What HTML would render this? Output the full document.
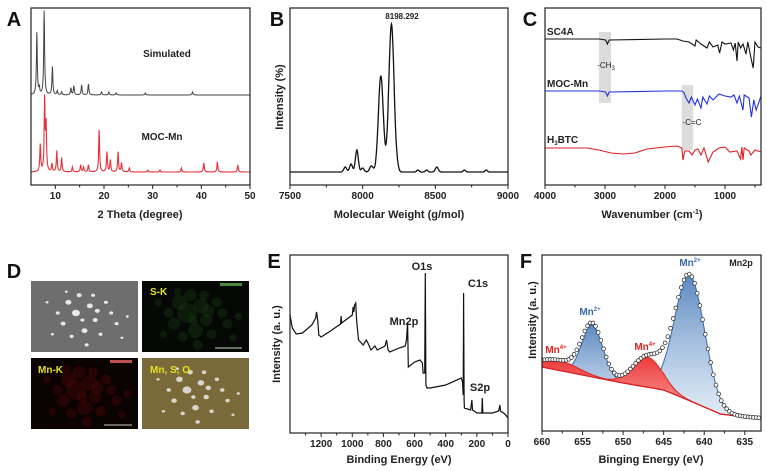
<!DOCTYPE html>
<html><head><meta charset="utf-8">
<style>
html,body{margin:0;padding:0;background:#fff;}
svg{display:block;font-family:"Liberation Sans",Arial,sans-serif;}
.t{font-size:10px;font-weight:bold;fill:#222;}
.lab{font-size:11px;font-weight:bold;fill:#222;}
.pl{font-size:20px;font-weight:bold;fill:#111;}
</style></head>
<body>
<svg id="fig" width="767" height="471" viewBox="0 0 767 471">
<g id="gA"></g>
<g id="gB"></g>
<g id="gC"></g>
<g id="gD"></g>
<g id="gE"></g>
<g id="gF"></g>
</svg>
<script>
// ---------- data ----------
const simPeaks=[[6.2,62],[6.7,6],[7.7,84],[9.4,28],[10.4,4],[11.3,3],[13.2,7],[13.8,9],[15.4,10],[16.8,11],[19.5,3],[21,3],[22.5,2],[28.5,2],[38.2,3]];
const mocPeaks=[[6.9,27],[7.8,72],[8.1,45],[9.3,8],[10.3,21],[11.3,14],[13.5,5],[15.2,7],[15.8,5],[16.8,7],[19,42],[20.6,20],[21.3,12],[22.9,20],[23.6,9],[25.2,4],[29,2],[31.5,2],[35.9,4],[40.5,9],[43.3,10],[47.5,7]];
const msPeaks=[[7880,5],[7920,8],[7960,22],[8000,4],[8060,6],[8125,96],[8198,148],[8240,3],[8510,5],[8380,2],[8440,2],[8700,2],[8850,2]];
const msWidths=[10,10,10,10,12,17,18,8,10,8,8,8,8];
const msTicks=[7500,8000,8500,9000];
const irSC4A=[[4000,39],[3100,39],[2990,40],[2960,44],[2930,40],[2000,39],[1800,39],[1700,41],[1600,42],[1500,46],[1480,40],[1400,44],[1300,48],[1260,42],[1200,47],[1120,45],[1090,53],[1050,42],[1000,44],[900,43],[860,50],[830,43],[800,61],[780,42],[740,48],[700,44],[650,54],[620,42],[560,60],[530,68],[500,42],[450,47],[400,48]];
const irMOC=[[4000,91],[3100,91],[2990,92],[2960,96],[2930,92],[2000,91],[1720,91],[1680,93],[1650,98],[1600,103],[1560,97],[1500,105],[1460,99],[1400,108],[1370,97],[1300,104],[1260,96],[1200,100],[1100,94],[1000,96],[900,97],[850,95],[800,103],[760,96],[700,110],[680,95],[600,98],[560,117],[520,100],[480,110],[400,96]];
const irBTC=[[4000,148],[3300,148],[3100,150],[2900,153],[2700,154],[2500,153],[2300,149],[2000,147],[1800,146],[1720,148],[1700,160],[1670,151],[1600,151],[1550,155],[1500,150],[1450,149],[1400,155],[1350,148],[1280,162],[1200,152],[1100,148],[1000,147],[920,152],[800,151],[740,159],[720,147],[700,160],[680,148],[600,151],[570,155],[500,150],[400,152]];
const xpsSurvey=[[1400,315],[1385,328],[1360,334],[1320,333],[1260,325],[1235,318],[1230,312],[1222,320],[1215,335],[1200,337],[1150,332],[1075,324],[1072,316],[1068,323],[1000,315],[995,307],[990,312],[985,305],[978,303],[972,320],[960,340],[930,345],[910,340],[900,343],[880,350],[855,346],[840,350],[790,346],[780,340],[770,350],[760,352],[700,348],[660,346],[652,340],[645,322],[640,367],[600,362],[565,360],[550,363],[545,373],[535,373],[531,273],[527,385],[520,388],[500,388],[400,385],[300,378],[292,382],[288,395],[285,293],[282,400],[280,408],[240,410],[232,400],[228,410],[200,413],[168,413],[165,398],[162,413],[100,413],[60,411],[52,405],[48,411],[20,414],[0,418]];
const xpsTicks=[1200,1000,800,600,400,200,0];
const fBg=[[660,367],[655,375],[650,383],[645,390],[642,400],[640,407],[638,414],[636,416],[633,418]];
const fCenters=[641.8,653.8,647.0,658.0];
const fAmps=[126,52,30,10];
const fSigmas=[1.85,1.3,1.8,2.4];
const fTypes=["mn2","mn2","mn4","mn4"];
const fTicks=[660,655,650,645,640,635];

// ---------- helpers ----------
const NS="http://www.w3.org/2000/svg";
function mk(parent,tag,attrs,name){const e=document.createElementNS(NS,tag);for(const k in attrs)e.setAttribute(k,attrs[k]);


parent.appendChild(e);return e;}
function txt(parent,x,y,s,cls,name,extra){const e=mk(parent,'text',Object.assign({x:x,y:y,class:cls,'text-anchor':'middle'},extra||{}),name);e.textContent=s;return e;}
function lin(d0,d1,r0,r1){return v=>r0+(v-d0)*(r1-r0)/(d1-d0);}
function interp(arr,v){if(arr[0][0]>arr[arr.length-1][0]){arr=arr.slice().reverse();}
if(v<=arr[0][0])return arr[0][1];for(let i=1;i<arr.length;i++){if(v<=arr[i][0]){const a=arr[i-1],b=arr[i];return a[1]+(b[1]-a[1])*(v-a[0])/(b[0]-a[0]);}}return arr[arr.length-1][1];}
function frame(g,x0,y0,x1,y1,name){mk(g,'rect',{x:x0,y:y0,width:x1-x0,height:y1-y0,fill:'none',stroke:'#222','stroke-width':1.2},name);}
function ticks(g,xs,vals,yb,labels,name,minor){vals.forEach((v,i)=>{const x=xs(v);mk(g,'line',{x1:x,x2:x,y1:yb,y2:yb+4,stroke:'#222','stroke-width':1},name+'-tick');
if(labels)txt(g,x,yb+14,String(labels[i]),'t',name+'-label');});
if(minor)minor.forEach(v=>{const x=xs(v);mk(g,'line',{x1:x,x2:x,y1:yb,y2:yb+2.5,stroke:'#222','stroke-width':1},name+'-minor-tick');});}
function peakPath(xs,base,peaks,lo,hi,step,w){let d='';for(let v=lo;v<=hi+1e-9;v+=step){let y=base;peaks.forEach(p=>{const dx=(v-p[0])/w;y-=p[1]/(1+dx*dx*4);});d+=(d?'L':'M')+xs(v).toFixed(1)+','+y.toFixed(1);}return d;}

// ---------- Panel A ----------
(function(){const g=document.getElementById('gA');const xs=lin(5,50,31,250);
txt(g,14,26,'A','pl','panel-label-a');
mk(g,'path',{d:peakPath(xs,95,simPeaks,5,50,0.05,0.22),fill:'none',stroke:'#444','stroke-width':1},'simulated-pattern');
mk(g,'path',{d:peakPath(xs,172,mocPeaks,5,50,0.05,0.22),fill:'none',stroke:'#e8303a','stroke-width':1.1},'moc-mn-pattern');
txt(g,167,57,'Simulated','lab','simulated-label',{style:'font-size:10px'});
txt(g,162,140,'MOC-Mn','lab','moc-mn-label',{style:'font-size:10px'});
frame(g,31,8,250,185,'panel-a-frame');
ticks(g,xs,[10,20,30,40,50],185,[10,20,30,40,50],'a-x',[15,25,35,45]);
txt(g,140,218,'2 Theta (degree)','lab','a-x-axis-title');})();

// ---------- Panel B ----------
(function(){const g=document.getElementById('gB');const xs=lin(7500,9000,290,508);
txt(g,277,26,'B','pl','panel-label-b');
let d='';for(let v=7500;v<=9000;v+=2){let y=172;msPeaks.forEach((p,i)=>{y-=p[1]*Math.exp(-((v-p[0])**2)/(2*msWidths[i]**2));});d+=(d?'L':'M')+xs(v).toFixed(1)+','+y.toFixed(1);}
mk(g,'path',{d:d,fill:'none',stroke:'#111','stroke-width':1.3},'mass-spectrum-line');
txt(g,402,19,'8198.292','t','peak-label-8198',{style:'font-size:8px'});
frame(g,290,8,508,185,'panel-b-frame');
ticks(g,xs,msTicks,185,msTicks,'b-x',[7750,8250,8750]);
txt(g,399,218,'Molecular Weight (g/mol)','lab','b-x-axis-title');
txt(g,0,0,'Intensity (%)','lab','b-y-axis-title',{transform:'translate(283,97) rotate(-90)'});})();

// ---------- Panel C ----------
(function(){const g=document.getElementById('gC');const xs=lin(4000,400,545,761);
txt(g,530,26,'C','pl','panel-label-c');
mk(g,'rect',{x:xs(3100),y:32,width:xs(2900)-xs(3100),height:71,fill:'#dcdcdc'},'ch3-band');
mk(g,'rect',{x:xs(1720),y:85,width:xs(1530)-xs(1720),height:65,fill:'#dcdcdc'},'cc-band');
const draw=(arr,col,name)=>mk(g,'path',{d:arr.map((p,i)=>(i?'L':'M')+xs(p[0]).toFixed(1)+','+p[1]).join(''),fill:'none',stroke:col,'stroke-width':1.1},name);
draw(irSC4A,'#111','sc4a-trace');draw(irMOC,'#2233dd','moc-mn-trace');draw(irBTC,'#dd2020','h3btc-trace');
txt(g,547,35,'SC4A','t','sc4a-label',{'text-anchor':'start'});
txt(g,547,87,'MOC-Mn','t','moc-mn-label-c',{'text-anchor':'start'});
const h=txt(g,547,143,'','t','h3btc-label',{'text-anchor':'start'});h.innerHTML='H<tspan dy="2" style="font-size:6px">3</tspan><tspan dy="-2">BTC</tspan>';
const c=txt(g,606,68,'','t','ch3-label',{style:'font-weight:normal;font-size:8px'});c.innerHTML='-CH<tspan dy="2" style="font-size:6px">3</tspan>';
txt(g,692,125,'-C=C','t','cc-label',{style:'font-weight:normal;font-size:8px'});
frame(g,545,8,761,185,'panel-c-frame');
ticks(g,xs,[4000,3000,2000,1000],185,[4000,3000,2000,1000],'c-x',[3500,2500,1500,500]);
const t=txt(g,652,218,'','lab','c-x-axis-title');t.innerHTML='Wavenumber (cm<tspan dy="-4" style="font-size:7px">-1</tspan><tspan dy="4">)</tspan>';})();

// ---------- Panel D ----------
(function(){const g=document.getElementById('gD');
txt(g,14,278,'D','pl','panel-label-d');
const boxes=[[31,281,'#6e6e6e','sem-image'],[142,281,'#050805','s-k-map'],[31,358,'#0b0202','mn-k-map'],[142,358,'#7a6a3a','overlay-map']];
boxes.forEach(b=>mk(g,'rect',{x:b[0],y:b[1],width:107,height:71,fill:b[2]},b[3]));
const specks=[[0.35,0.3,3],[0.42,0.45,4],[0.55,0.35,3],[0.6,0.55,2.5],[0.3,0.6,2.5],[0.5,0.7,3],[0.7,0.3,2],[0.25,0.45,2],[0.65,0.75,2],[0.8,0.6,2],[0.45,0.2,2.5],[0.38,0.78,2],[0.58,0.2,2],[0.2,0.75,1.5],[0.75,0.45,2],[0.9,0.5,1.5],[0.48,0.55,2],[0.33,0.15,1.5],[0.85,0.8,1.5],[0.15,0.3,1.5],[0.62,0.42,2.5],[0.52,0.9,2]];
specks.forEach(s=>mk(g,'ellipse',{cx:31+s[0]*107,cy:281+s[1]*71,rx:s[2],ry:s[2]*0.8,fill:'#e8e8e8'},'sem-particle'));
specks.forEach(s=>mk(g,'ellipse',{cx:142+s[0]*107,cy:358+s[1]*71,rx:s[2]*1.1,ry:s[2]*0.9,fill:'#d8d6cc'},'overlay-particle'));
specks.forEach(s=>mk(g,'circle',{cx:142+s[0]*107,cy:281+s[1]*71,r:s[2]*2.5,fill:'#1d4a18',opacity:0.3},'s-signal'));
specks.forEach(s=>mk(g,'circle',{cx:31+s[0]*107,cy:358+s[1]*71,r:s[2]*2.5,fill:'#5a0a0a',opacity:0.35},'mn-signal'));
txt(g,150,295,'S-K','t','s-k-label',{'text-anchor':'start',style:'fill:#e6e020'});
txt(g,38,373,'Mn-K','t','mn-k-label',{'text-anchor':'start',style:'fill:#e6e020'});
txt(g,150,373,'Mn, S, O','t','overlay-label',{'text-anchor':'start',style:'fill:#e6e020'});
mk(g,'rect',{x:220,y:283,width:22,height:3,fill:'#4a8a3a'},'s-k-colorbar');
mk(g,'rect',{x:110,y:360,width:22,height:3,fill:'#c05050'},'mn-k-colorbar');
mk(g,'line',{x1:215,x2:242,y1:348,y2:348,stroke:'#ccc'},'s-k-scalebar');
mk(g,'line',{x1:104,x2:132,y1:425,y2:425,stroke:'#ccc'},'mn-k-scalebar');})();

// ---------- Panel E ----------
(function(){const g=document.getElementById('gE');const xs=lin(1400,0,290,508);
txt(g,274,268,'E','pl','panel-label-e');
mk(g,'path',{d:xpsSurvey.map((p,i)=>(i?'L':'M')+xs(p[0]).toFixed(1)+','+p[1]).join(''),fill:'none',stroke:'#111','stroke-width':1.2},'xps-survey-line');
txt(g,422,270,'O1s','lab','o1s-label');txt(g,478,287,'C1s','lab','c1s-label');
txt(g,404,325,'Mn2p','lab','mn2p-label');txt(g,480,391,'S2p','lab','s2p-label');
frame(g,290,255,508,433,'panel-e-frame');
ticks(g,xs,xpsTicks,433,xpsTicks,'e-x',[1300,1100,900,700,500,300,100]);
txt(g,399,463,'Binding Energy (eV)','lab','e-x-axis-title');
txt(g,0,0,'Intensity (a. u.)','lab','e-y-axis-title',{transform:'translate(280,344) rotate(-90)'});})();

// ---------- Panel F ----------
(function(){const g=document.getElementById('gF');const xs=lin(660,633,542,761);
txt(g,526,268,'F','pl','panel-label-f');
const gauss=(i,v)=>fAmps[i]*Math.exp(-((v-fCenters[i])**2)/(2*fSigmas[i]**2));
const defs=mk(g,'defs',{},'gradients');
defs.innerHTML='<linearGradient id="gb" x1="0" y1="0" x2="0" y2="1"><stop offset="0" stop-color="#3f74b5" stop-opacity="0.85"/><stop offset="1" stop-color="#cfe0f2" stop-opacity="0.6"/></linearGradient><linearGradient id="gr" x1="0" y1="0" x2="0" y2="1"><stop offset="0" stop-color="#ee3b3b"/><stop offset="1" stop-color="#f8a8a8"/></linearGradient>';
const clipP=mk(g,'clipPath',{id:'fclip'},'plot-clip');mk(clipP,'rect',{x:542,y:255,width:219,height:176},'clip-rect');
const pg=mk(g,'g',{'clip-path':'url(#fclip)'},'plot-area');
for(let i=0;i<fCenters.length;i++){let top='',bot='';
for(let v=661;v>=632;v-=0.2){const b=interp(fBg,v);const y=b-gauss(i,v);top+=(top?'L':'M')+xs(v).toFixed(1)+','+y.toFixed(1);bot=xs(v).toFixed(1)+','+b.toFixed(1)+(bot?'L'+bot:'');}
const isB=fTypes[i]==='mn2';
mk(pg,'path',{d:top+'L'+bot+'Z',fill:isB?'url(#gb)':'url(#gr)',stroke:'none'},'fit-peak-area-'+i);
mk(pg,'path',{d:top,fill:'none',stroke:isB?'#3a6aa8':'#d22',"stroke-width":1},'fit-peak-line-'+i);}
let bd='';for(let v=661;v>=632;v-=0.5){bd+=(bd?'L':'M')+xs(v).toFixed(1)+','+interp(fBg,v).toFixed(1);}
mk(pg,'path',{d:bd,fill:'none',stroke:'#d22','stroke-width':1.3},'background-line');
for(let v=660;v>=633;v-=0.33){let y=interp(fBg,v);for(let i=0;i<fCenters.length;i++)y-=gauss(i,v);
mk(pg,'circle',{cx:xs(v).toFixed(1),cy:y.toFixed(1),r:1.9,fill:'#fff',stroke:'#222','stroke-width':0.7},'data-point');}
frame(g,542,255,761,431,'panel-f-frame');
ticks(g,xs,fTicks,431,fTicks,'f-x',[657.5,652.5,647.5,642.5,637.5]);
txt(g,651,463,'Binging Energy (eV)','lab','f-x-axis-title');
txt(g,0,0,'Intensity (a. u.)','lab','f-y-axis-title',{transform:'translate(536,320) rotate(-90)'});
txt(g,741,266,'Mn2p','t','mn2p-title',{style:'font-size:9px'});
const lab=(x,y,s,sup,col,n)=>{const e=txt(g,x,y,'','t',n,{style:'fill:'+col});e.innerHTML=s+'<tspan dy="-4" style="font-size:6px">'+sup+'</tspan>';};
lab(690,266,'Mn','2+','#3a6aa8','mn2-label-main');lab(590,315,'Mn','2+','#3a6aa8','mn2-label-second');
lab(556,353,'Mn','4+','#e02020','mn4-label-left');lab(645,350,'Mn','4+','#e02020','mn4-label-mid');})();
</script>
</body></html>
